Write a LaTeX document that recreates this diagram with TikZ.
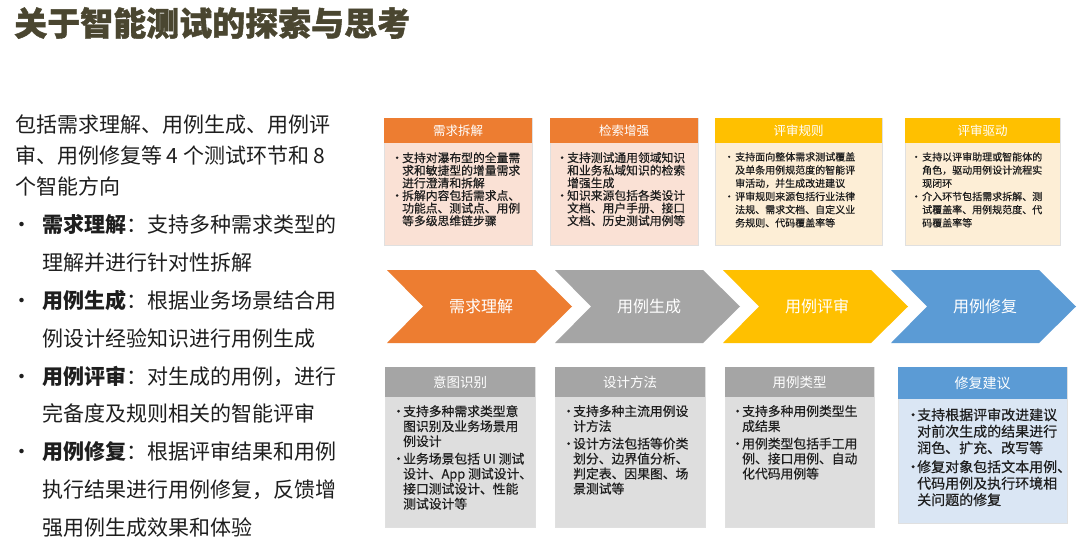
\documentclass[tikz,border=0pt]{standalone}
\usepackage{fontspec}
\setmainfont{Noto Sans CJK SC}
\newfontfamily\boxfont[FakeBold=0.5]{Noto Sans CJK SC}
\newfontfamily\titlefont[BoldFeatures={FakeBold=1.2}]{Noto Sans CJK SC}

\definecolor{titleC}{HTML}{4A4630}
\definecolor{orgC}{HTML}{ED7D31}
\definecolor{grayC}{HTML}{A5A5A5}
\definecolor{goldC}{HTML}{FFC000}
\definecolor{blueC}{HTML}{5B9BD5}
\definecolor{orgL}{HTML}{FAE1D5}
\definecolor{goldL}{HTML}{FDEED6}
\definecolor{grayL}{HTML}{DEDEDE}
\definecolor{blueL}{HTML}{DAE6F4}
\definecolor{txtC}{HTML}{1E1E1E}

\def\bul{\makebox[11pt][l]{\textbullet}}
\def\ind{\hspace*{11pt}}
\def\lb{\llap{\makebox[31pt][l]{\textbullet}}}

\begin{document}
\begin{tikzpicture}[x=1pt, y=-1pt]

  \tikzstyle{box}     = [draw=black!12, line width=0.6pt]
  \tikzstyle{hdr}     = [text=white, inner sep=0pt, font=\fontsize{12.5}{14}\selectfont]
  \tikzstyle{hdrB}    = [text=white, inner sep=0pt, font=\fontsize{13.5}{15}\selectfont]
  \tikzstyle{chev}    = [text=white, inner sep=0pt, font=\fontsize{16}{18}\selectfont]
  \tikzstyle{txt}     = [anchor=north west, inner sep=0pt, align=left, text=txtC]
  \tikzstyle{lefttxt} = [anchor=north west, inner sep=0pt, align=left, text=txtC]

  \fill[white] (0,0) rectangle (1080,549);
  \useasboundingbox (0,0) rectangle (1080,549);

  % ---- TITLE ----
  \node[anchor=west, inner sep=0pt, text=titleC,
        font=\fontsize{33}{36}\titlefont\bfseries] (title) at (14,23) {关于智能测试的探索与思考};

  % ---- LEFT TEXT ----
  \node[lefttxt, font=\fontsize{21}{31}\selectfont] (intro) at (15,114.5)
    {包括需求理解、用例生成、用例评\\审、用例修复等 4 个测试环节和 8\\个智能方向};
  \node[lefttxt, font=\fontsize{21}{37.8}\selectfont] (points) at (42,214.5)
    {\lb\textbf{需求理解}：支持多种需求类型的\\理解并进行针对性拆解\\
     \lb\textbf{用例生成}：根据业务场景结合用\\例设计经验知识进行用例生成\\
     \lb\textbf{用例评审}：对生成的用例，进行\\完备度及规则相关的智能评审\\
     \lb\textbf{用例修复}：根据评审结果和用例\\执行结果进行用例修复，反馈增\\强用例生成效果和体验};

  % ---- TOP BOXES ----

  % Box 1: 需求拆解
  \draw[box, fill=orgL] (384,118) rectangle (532,245);
  \fill[orgC] (384,118) rectangle (532,143);
  \node[hdr] (hdrA) at (458,130.5) {需求拆解};
  \node[txt, font=\fontsize{11.8}{12.6}\boxfont] (txtA) at (391,152)
    {\bul 支持对瀑布型的全量需\\\ind 求和敏捷型的增量需求\\\ind 进行澄清和拆解\\
     \bul 拆解内容包括需求点、\\\ind 功能点、测试点、用例\\\ind 等多级思维链步骤};

  % Box 2: 检索增强
  \draw[box, fill=orgL] (550,118) rectangle (698,245);
  \fill[orgC] (550,118) rectangle (698,143);
  \node[hdr] (hdrB) at (624,130.5) {检索增强};
  \node[txt, font=\fontsize{11.8}{12.6}\boxfont] (txtB) at (556,152)
    {\bul 支持测试通用领域知识\\\ind 和业务私域知识的检索\\\ind 增强生成\\
     \bul 知识来源包括各类设计\\\ind 文档、用户手册、接口\\\ind 文档、历史测试用例等};

  % Box 3: 评审规则
  \draw[box, fill=goldL] (715,118) rectangle (882,245);
  \fill[goldC] (715,118) rectangle (882,143);
  \node[hdr] (hdrC) at (798.5,130.5) {评审规则};
  \node[txt, font=\fontsize{10}{13.2}\boxfont] (txtC) at (724,152)
    {\bul 支持面向整体需求测试覆盖\\\ind 及单条用例规范度的智能评\\\ind 审活动，并生成改进建议\\
     \bul 评审规则来源包括行业法律\\\ind 法规、需求文档、自定义业\\\ind 务规则、代码覆盖率等};

  % Box 4: 评审驱动
  \draw[box, fill=goldL] (905,118) rectangle (1060,245);
  \fill[goldC] (905,118) rectangle (1060,143);
  \node[hdr] (hdrD) at (982.5,130.5) {评审驱动};
  \node[txt, font=\fontsize{10}{13.2}\boxfont] (txtD) at (911,152)
    {\bul 支持以评审助理或智能体的\\\ind 角色，驱动用例设计流程实\\\ind 现闭环\\
     \bul 介入环节包括需求拆解、测\\\ind 试覆盖率、用例规范度、代\\\ind 码覆盖率等};

  % ---- CHEVRONS ----
  \foreach \L/\c/\t [count=\i] in {387/orgC/需求理解, 555/grayC/用例生成,
                                   723/goldC/用例评审, 891/blueC/用例修复}{
    \fill[\c] (\L,270) -- ++(148,0) -- ++(37,36.5) -- ++(-37,36.5)
              -- ++(-148,0) -- ++(36,-36.5) -- cycle;
    \node[chev] (step\i) at (\L+94,306.5) {\t};
  }

  % ---- BOTTOM BOXES ----

  % Box 1: 意图识别
  \draw[box, fill=grayL] (385,367) rectangle (535,527);
  \fill[grayC] (385,367) rectangle (535,397);
  \node[hdrB] (hdrE) at (460,382) {意图识别};
  \node[txt, font=\fontsize{12.8}{15}\boxfont] (txtE) at (392,405)
    {\bul 支持多种需求类型意\\\ind 图识别及业务场景用\\\ind 例设计\\[2.5pt]
     \bul 业务场景包括 UI 测试\\\ind 设计、App 测试设计、\\\ind 接口测试设计、性能\\\ind 测试设计等};

  % Box 2: 设计方法
  \draw[box, fill=grayL] (555,367) rectangle (705,527);
  \fill[grayC] (555,367) rectangle (705,397);
  \node[hdrB] (hdrF) at (630,382) {设计方法};
  \node[txt, font=\fontsize{12.8}{15}\boxfont] (txtF) at (562,405)
    {\bul 支持多种主流用例设\\\ind 计方法\\[2.5pt]
     \bul 设计方法包括等价类\\\ind 划分、边界值分析、\\\ind 判定表、因果图、场\\\ind 景测试等};

  % Box 3: 用例类型
  \draw[box, fill=grayL] (725,367) rectangle (874,527);
  \fill[grayC] (725,367) rectangle (874,397);
  \node[hdrB] (hdrG) at (799.5,382) {用例类型};
  \node[txt, font=\fontsize{12.8}{15}\boxfont] (txtG) at (731,405)
    {\bul 支持多种用例类型生\\\ind 成结果\\[2.5pt]
     \bul 用例类型包括手工用\\\ind 例、接口用例、自动\\\ind 化代码用例等};

  % Box 4: 修复建议
  \draw[box, fill=blueL] (898,367) rectangle (1067,523);
  \fill[blueC] (898,367) rectangle (1067,399);
  \node[hdrB, font=\fontsize{14}{16}\selectfont] (hdrH) at (982.5,383) {修复建议};
  \node[txt, font=\fontsize{14}{16.5}\boxfont] (txtH) at (906,408)
    {\bul 支持根据评审改进建议\\\ind 对前次生成的结果进行\\\ind 润色、扩充、改写等\\[2.5pt]
     \bul 修复对象包括文本用例、\\\ind 代码用例及执行环境相\\\ind 关问题的修复};

\end{tikzpicture}
\end{document}
